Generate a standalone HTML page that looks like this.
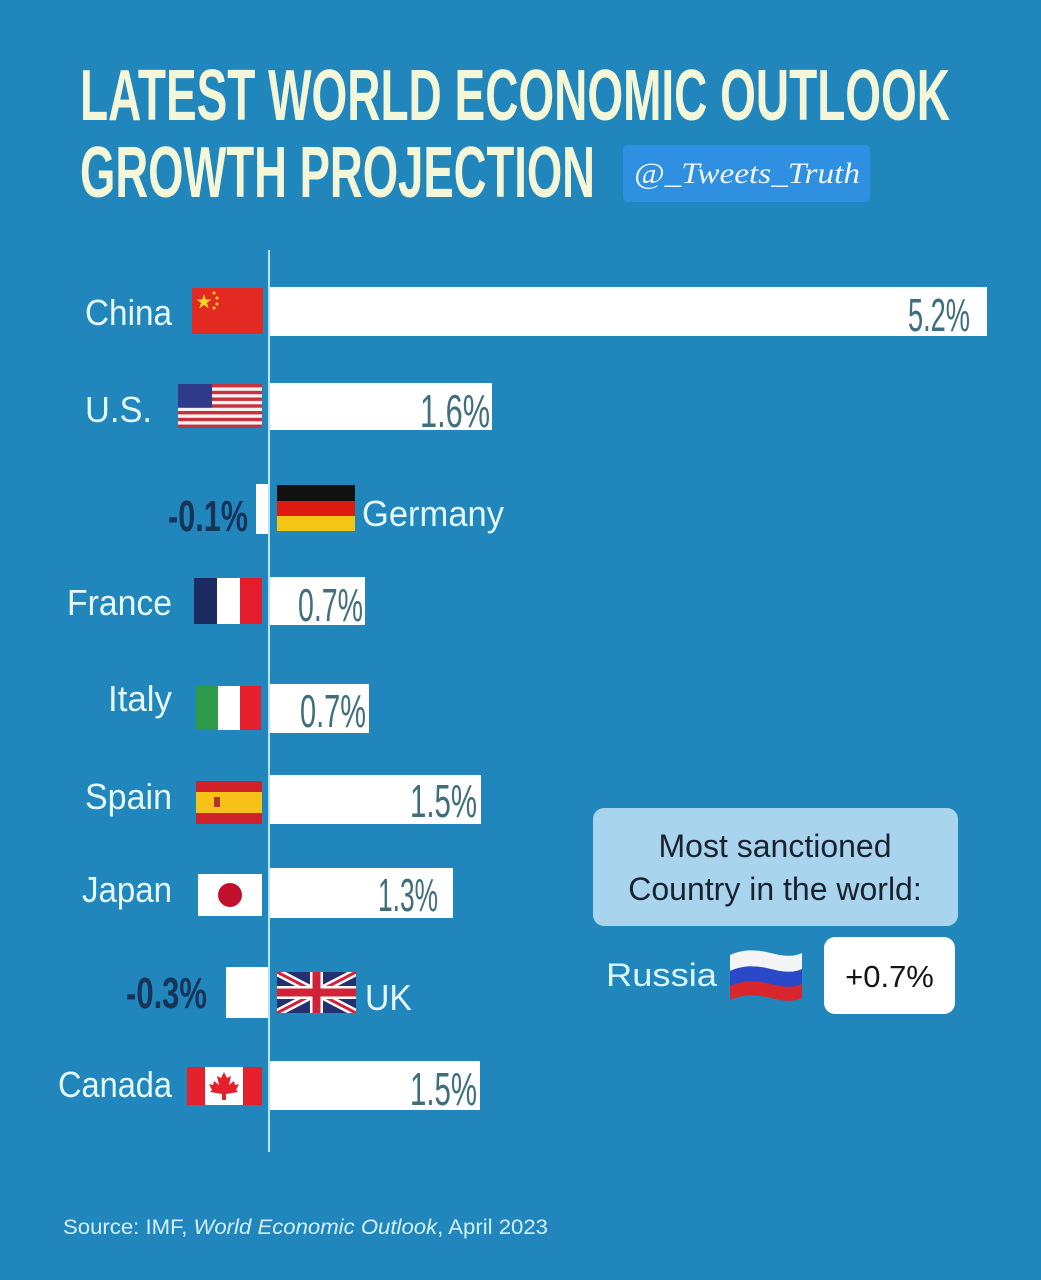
<!DOCTYPE html>
<html><head><meta charset="utf-8"><style>
html,body{margin:0;padding:0;background:#2186bb;}
svg{display:block;}
</style></head><body>
<svg width="1041" height="1280" viewBox="0 0 1041 1280" xmlns="http://www.w3.org/2000/svg">
<rect width="1041" height="1280" fill="#2186bb"/>
<!-- Title -->
<g font-family="Liberation Sans, sans-serif" font-weight="bold" fill="#f4f6d8">
<text x="80" y="120" font-size="72" textLength="870" lengthAdjust="spacingAndGlyphs">LATEST WORLD ECONOMIC OUTLOOK</text>
<text x="80" y="197" font-size="72" textLength="515" lengthAdjust="spacingAndGlyphs">GROWTH PROJECTION</text>
</g>
<rect x="623" y="145" width="247" height="57" rx="5" fill="#2f8fe0"/>
<text x="634" y="183" font-family="Liberation Serif, serif" font-style="italic" font-size="30" fill="#f0f6ff" textLength="226" lengthAdjust="spacingAndGlyphs">@_Tweets_Truth</text>

<!-- Axis -->
<line x1="269" y1="250" x2="269" y2="1152" stroke="#b8e4ff" stroke-width="2"/>

<!-- Bars -->
<g fill="#ffffff">
<rect x="270" y="287" width="717" height="49"/>
<rect x="270" y="383" width="222" height="47"/>
<rect x="256" y="484" width="12" height="50"/>
<rect x="270" y="577" width="95" height="48"/>
<rect x="270" y="684" width="99" height="49"/>
<rect x="270" y="775" width="211" height="49"/>
<rect x="270" y="868" width="183" height="50"/>
<rect x="226" y="967" width="42" height="51"/>
<rect x="270" y="1061" width="210" height="49"/>
</g>

<!-- Values -->
<g font-family="Liberation Sans, sans-serif" font-size="46" fill="#3f6f7c">
<text x="908" y="331" textLength="62" lengthAdjust="spacingAndGlyphs">5.2%</text>
<text x="420" y="427" textLength="70" lengthAdjust="spacingAndGlyphs">1.6%</text>
<text x="298" y="621" textLength="65" lengthAdjust="spacingAndGlyphs">0.7%</text>
<text x="300" y="727" textLength="66" lengthAdjust="spacingAndGlyphs">0.7%</text>
<text x="410" y="817" textLength="67" lengthAdjust="spacingAndGlyphs">1.5%</text>
<text x="378" y="911" textLength="60" lengthAdjust="spacingAndGlyphs">1.3%</text>
<text x="410" y="1105" textLength="67" lengthAdjust="spacingAndGlyphs">1.5%</text>
</g>
<g font-family="Liberation Sans, sans-serif" font-size="44" font-weight="bold" fill="#163458">
<text x="168" y="531" textLength="80" lengthAdjust="spacingAndGlyphs">-0.1%</text>
<text x="126" y="1008" textLength="81" lengthAdjust="spacingAndGlyphs">-0.3%</text>
</g>

<!-- Country labels -->
<g font-family="Liberation Sans, sans-serif" font-size="36" fill="#e6f8ff">
<text x="85" y="325" textLength="87" lengthAdjust="spacingAndGlyphs">China</text>
<text x="85" y="422" textLength="67" lengthAdjust="spacingAndGlyphs">U.S.</text>
<text x="362" y="526" textLength="142" lengthAdjust="spacingAndGlyphs">Germany</text>
<text x="67" y="615" textLength="105" lengthAdjust="spacingAndGlyphs">France</text>
<text x="108" y="711" textLength="64" lengthAdjust="spacingAndGlyphs">Italy</text>
<text x="85" y="809" textLength="87" lengthAdjust="spacingAndGlyphs">Spain</text>
<text x="82" y="902" textLength="90" lengthAdjust="spacingAndGlyphs">Japan</text>
<text x="365" y="1010" textLength="47" lengthAdjust="spacingAndGlyphs">UK</text>
<text x="58" y="1097" textLength="114" lengthAdjust="spacingAndGlyphs">Canada</text>
</g>

<!-- China flag -->
<rect x="192" y="288" width="71" height="46" fill="#e32a22"/>
<polygon points="204,294 205.8,299.5 211.5,299.5 206.9,302.9 208.7,308.4 204,305 199.3,308.4 201.1,302.9 196.5,299.5 202.2,299.5" fill="#f7d22a"/>
<circle cx="214" cy="293" r="1.5" fill="#f7d22a"/>
<circle cx="217" cy="298" r="1.5" fill="#f7d22a"/>
<circle cx="217" cy="304" r="1.5" fill="#f7d22a"/>
<circle cx="214" cy="308" r="1.5" fill="#f7d22a"/>

<!-- US flag -->
<g>
<rect x="178" y="384" width="84" height="44" fill="#f2f2f2"/>
<g fill="#c8303c">
<rect x="178" y="384" width="84" height="3.4"/>
<rect x="178" y="390.8" width="84" height="3.4"/>
<rect x="178" y="397.5" width="84" height="3.4"/>
<rect x="178" y="404.3" width="84" height="3.4"/>
<rect x="178" y="411" width="84" height="3.4"/>
<rect x="178" y="417.8" width="84" height="3.4"/>
<rect x="178" y="424.6" width="84" height="3.4"/>
</g>
<rect x="178" y="384" width="34" height="23.7" fill="#2f3a8a"/>
</g>

<!-- Germany flag -->
<rect x="277" y="485" width="78" height="16" fill="#111"/>
<rect x="277" y="501" width="78" height="15" fill="#dd1a10"/>
<rect x="277" y="516" width="78" height="15" fill="#f3c514"/>

<!-- France flag -->
<rect x="194" y="578" width="23" height="46" fill="#1c2a62"/>
<rect x="217" y="578" width="23" height="46" fill="#ffffff"/>
<rect x="240" y="578" width="22" height="46" fill="#e41d2c"/>

<!-- Italy flag -->
<rect x="196" y="686" width="22" height="44" fill="#2e9b4a"/>
<rect x="218" y="686" width="22" height="44" fill="#ffffff"/>
<rect x="240" y="686" width="21" height="44" fill="#e4202c"/>

<!-- Spain flag -->
<rect x="196" y="781" width="66" height="43" fill="#d0202a"/>
<rect x="196" y="792" width="66" height="21" fill="#f6c21a"/>
<rect x="214" y="797" width="6" height="10" fill="#b3352a"/>

<!-- Japan flag -->
<rect x="198" y="874" width="64" height="42" fill="#ffffff"/>
<circle cx="230" cy="895" r="12" fill="#c0102e"/>

<!-- UK flag -->
<g>
<clipPath id="uk"><rect x="277" y="972" width="79" height="41"/></clipPath>
<g clip-path="url(#uk)">
<rect x="277" y="972" width="79" height="41" fill="#233072"/>
<line x1="277" y1="972" x2="356" y2="1013" stroke="#ffffff" stroke-width="8"/>
<line x1="356" y1="972" x2="277" y2="1013" stroke="#ffffff" stroke-width="8"/>
<line x1="277" y1="972" x2="356" y2="1013" stroke="#d2223a" stroke-width="3"/>
<line x1="356" y1="972" x2="277" y2="1013" stroke="#d2223a" stroke-width="3"/>
<rect x="277" y="986" width="79" height="13" fill="#ffffff"/>
<rect x="310" y="972" width="13" height="41" fill="#ffffff"/>
<rect x="277" y="988.5" width="79" height="8" fill="#d2223a"/>
<rect x="312.5" y="972" width="8" height="41" fill="#d2223a"/>
</g>
</g>

<!-- Canada flag -->
<rect x="187" y="1067" width="18" height="38" fill="#e4202c"/>
<rect x="205" y="1067" width="38" height="38" fill="#ffffff"/>
<rect x="243" y="1067" width="19" height="38" fill="#e4202c"/>
<polygon points="224,1072 227,1078 231,1076 229,1085 234,1081 235,1085 239,1084 236,1090 238,1092 226,1094 226,1100 222,1100 222,1094 210,1092 212,1090 209,1084 213,1085 214,1081 219,1085 217,1076 221,1078" fill="#e4202c"/>

<!-- Sanction box -->
<rect x="593" y="808" width="365" height="118" rx="11" fill="#a9d4ee"/>
<g font-family="Liberation Sans, sans-serif" font-size="32" fill="#1a2230" text-anchor="middle">
<text x="775" y="857">Most sanctioned</text>
<text x="775" y="900">Country in the world:</text>
</g>
<text x="606" y="986" font-family="Liberation Sans, sans-serif" font-size="32" fill="#d8f6ff" textLength="111" lengthAdjust="spacingAndGlyphs">Russia</text>
<!-- Russia flag wavy -->
<g>
<path d="M730,955 C745,948 760,950 775,954 C788,957 796,956 802,953 L802,969 C796,972 788,973 775,970 C760,966 745,964 730,971 Z" fill="#f4f4f4"/>
<path d="M730,971 C745,964 760,966 775,970 C788,973 796,972 802,969 L802,984 C796,987 788,988 775,985 C760,981 745,979 730,986 Z" fill="#2a48c8"/>
<path d="M730,986 C745,979 760,981 775,985 C788,988 796,987 802,984 L802,998 C796,1001 788,1002 775,999 C760,995 745,993 730,1000 Z" fill="#d8262c"/>
</g>
<rect x="824" y="937" width="131" height="77" rx="11" fill="#ffffff"/>
<text x="889.5" y="987" font-family="Liberation Sans, sans-serif" font-size="31" fill="#151515" text-anchor="middle">+0.7%</text>

<!-- Source -->
<text x="63" y="1234" font-family="Liberation Sans, sans-serif" font-size="21" fill="#d2f0ff" textLength="485" lengthAdjust="spacingAndGlyphs">Source: IMF, <tspan font-style="italic">World Economic Outlook</tspan>, April 2023</text>
</svg>
</body></html>
